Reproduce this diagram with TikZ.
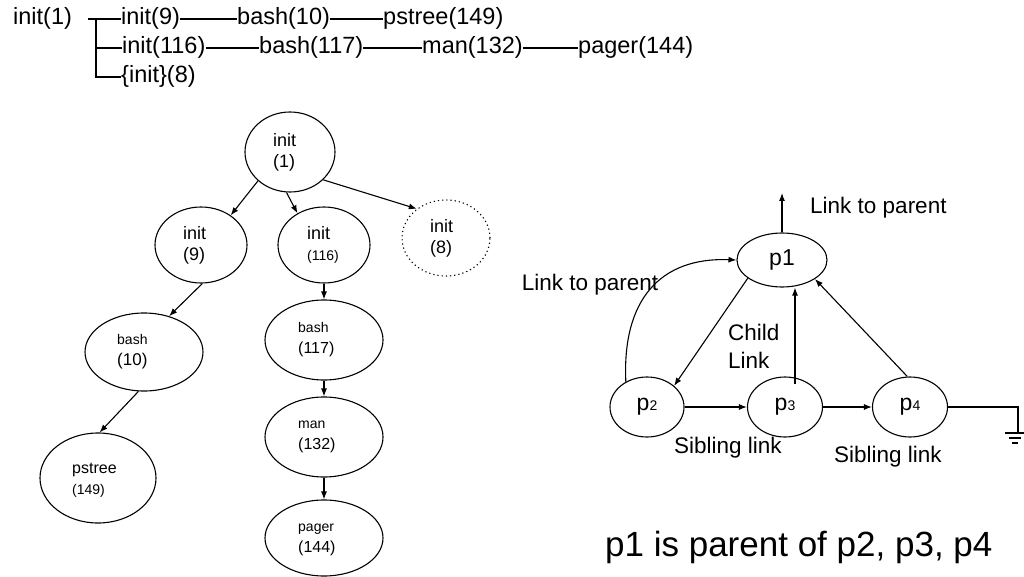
\documentclass[tikz,border=0pt]{standalone}
\usepackage{fontspec}
\setmainfont{Liberation Sans}
\usetikzlibrary{shapes.geometric,arrows.meta}
\tikzset{
  proc/.style={draw, ellipse, line width=1.1pt, inner sep=0pt},
  arr/.style={-{Latex[length=8pt,width=6pt]}, line width=1.1pt},
  ln/.style={line width=1.1pt},
  trow/.style={anchor=west, inner sep=0pt, font=\fontsize{23.5}{23.5}\selectfont, text height=17pt, text depth=5pt},
  tlbl/.style={anchor=west, inner sep=0pt, align=left, font=\fontsize{18}{21}\selectfont},
  big/.style={font=\fontsize{22.5}{28}\selectfont, inner sep=0pt},
  pnode/.style={proc, font=\fontsize{23}{23}\selectfont},
}
\newcommand{\smtxt}[1]{{\fontsize{14}{21}\selectfont #1}}
\newcommand{\mdtxt}[1]{{\fontsize{16}{21}\selectfont #1}}
\newcommand{\pidx}[1]{p{\fontsize{14}{14}\selectfont #1}}
\begin{document}
\begin{tikzpicture}[x=1pt, y=-1pt]
\useasboundingbox (0,0) rectangle (1024,577);

% ---- pstree text output ----
\node[trow] (r0)  at (13,19)  {init(1)};
\node[trow] (r11) at (121,19) {init(9)};
\node[trow] (r12) at (237,19) {bash(10)};
\node[trow] (r13) at (383,19) {pstree(149)};
\node[trow] (r21) at (122,48) {init(116)};
\node[trow] (r22) at (259,48) {bash(117)};
\node[trow] (r23) at (422,48) {man(132)};
\node[trow] (r24) at (578,48) {pager(144)};
\node[trow] (r31) at (121,77) {\{init\}(8)};
\coordinate (bt) at (96,19);
\coordinate (bl) at (96,77);
\coordinate (bs) at (88,19);
\draw[ln] (bs) -- (r11.west);
\draw[ln] (bt) -- (bl) -- (r31.west);
\draw[ln] (bt |- r21.west) -- (r21.west);
\draw[ln] (r11.east) -- (r12.west);
\draw[ln] (r12.east) -- (r13.west);
\draw[ln] (r21.east) -- (r22.west);
\draw[ln] (r22.east) -- (r23.west);
\draw[ln] (r23.east) -- (r24.west);

% ---- process tree ----
\node[proc, minimum width=90pt, minimum height=80pt] (n1) at (290,152) {};
\node[tlbl] at ([xshift=-17pt]n1.center) {init\\(1)};
\node[proc, minimum width=92pt, minimum height=76pt] (n9) at (201,245) {};
\node[tlbl] at ([xshift=-18pt]n9.center) {init\\(9)};
\node[proc, minimum width=92pt, minimum height=76pt] (n116) at (324,245) {};
\node[tlbl] at ([xshift=-17pt]n116.center) {init\\\smtxt{(116)}};
\node[proc, dash pattern=on 1.2pt off 3pt, minimum width=88pt, minimum height=76pt] (n8) at (446,238) {};
\node[tlbl] at ([xshift=-16pt]n8.center) {init\\(8)};
\node[proc, minimum width=118pt, minimum height=78pt] (b10) at (144,352) {};
\node[tlbl] at ([xshift=-27pt]b10.center) {\smtxt{bash}\\{\fontsize{17}{21}\selectfont (10)}};
\node[proc, minimum width=116pt, minimum height=90pt] (ps) at (98,478) {};
\node[tlbl] at ([xshift=-26pt,yshift=-2pt]ps.center) {\mdtxt{pstree}\\\smtxt{(149)}};
\node[proc, minimum width=118pt, minimum height=80pt] (b117) at (324,340) {};
\node[tlbl] at ([xshift=-26pt]b117.center) {\smtxt{bash}\\\mdtxt{(117)}};
\node[proc, minimum width=118pt, minimum height=80pt] (man) at (324,437) {};
\node[tlbl] at ([xshift=-26pt]man.center) {\smtxt{man}\\\mdtxt{(132)}};
\node[proc, minimum width=118pt, minimum height=76pt] (pager) at (324,538) {};
\node[tlbl] at ([xshift=-26pt,yshift=-2pt]pager.center) {\smtxt{pager}\\\mdtxt{(144)}};

\draw[arr] (n1.222) -- (n9.45);
\draw[arr] (n1.265) -- (n116.130);
\draw[arr] (n1.320) -- (n8.135);
\draw[arr] (n9.272) -- (b10.55);
\draw[arr] (b10.262) -- (ps.88);
\draw[arr] (n116.south) -- (b117.north);
\draw[arr] (b117.south) -- (man.north);
\draw[arr] (man.south) -- (pager.north);

% ---- parent / child / sibling links ----
\node[pnode, minimum width=90pt, minimum height=54pt] (p1) at (782,260) {p1};
\node[pnode, minimum width=74pt, minimum height=60pt] (p2) at (647,407) {\pidx{2}};
\node[pnode, minimum width=75pt, minimum height=60pt] (p3) at (785,407) {\pidx{3}};
\node[pnode, minimum width=75pt, minimum height=60pt] (p4) at (910,407) {\pidx{4}};

\coordinate (up) at (782,193);
\draw[arr] (p1.north) -- (up);
\node[big, anchor=west] (lp1) at (810,208) {Link to parent};
\node[big] (lp2) at (590,285) {Link to parent};
\draw[arr] (p2.130) .. controls (622,300) and (660,257) .. (p1.west);
\draw[arr] (p1.208) -- (p2.38);
\node[big, anchor=west, align=left] (cl) at (728,346) {Child\\Link};
\draw[arr] ([xshift=10pt,yshift=-8pt]p3.north) -- ([xshift=13pt]p1.south);
\draw[arr] (p4.95) -- (p1.330);
\draw[arr] (p2.east) -- (p3.west);
\draw[arr] (p3.east) -- (p4.west);
\node[big] (s1) at (728,448) {Sibling link};
\node[big] (s2) at (888,457) {Sibling link};

% ground terminator
\coordinate (g) at (1018,433);
\draw[ln] (p4.east) -| (g);
\draw[ln] ([xshift=-13pt]g) -- ([xshift=7pt]g);
\draw[ln] ([xshift=-9pt,yshift=-5pt]g) -- ([xshift=3pt,yshift=-5pt]g);
\draw[ln] ([xshift=-6pt,yshift=-10pt]g) -- ([xshift=0pt,yshift=-10pt]g);

\node[anchor=west, inner sep=0pt, font=\fontsize{35}{35}\selectfont] (cap) at (605,547) {p1 is parent of p2, p3, p4};
\end{tikzpicture}
\end{document}
